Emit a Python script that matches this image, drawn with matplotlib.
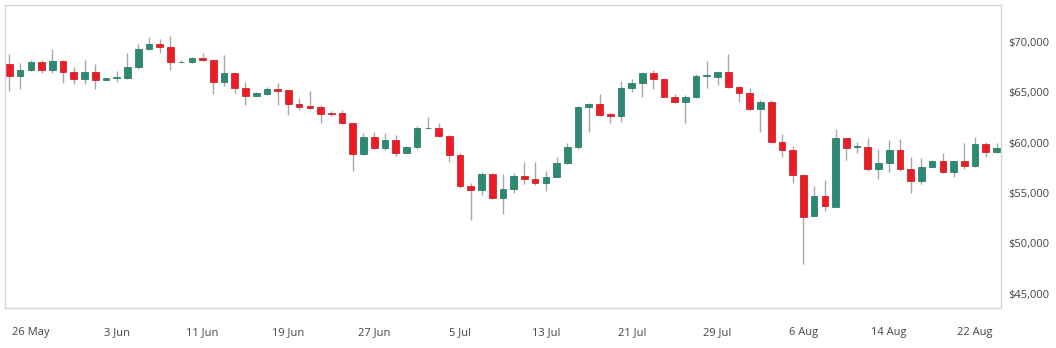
import pandas as pd
import numpy as np
import matplotlib
matplotlib.use('Agg')
import matplotlib.pyplot as plt
from matplotlib.ticker import FuncFormatter

# Daily OHLC (24 May - 24 Aug)
dates = pd.date_range('2024-05-24', periods=93, freq='D')

opens = [67790, 66600, 67190, 67990, 67160, 68080, 66990, 66270, 66990, 66200,
         66400, 66370, 67460, 69270, 69800, 69470, 67950, 67950, 68350, 68180,
         66000, 66930, 65380, 64650, 64850, 65280, 65210, 63790, 63630, 63490,
         62930, 62900, 61910, 58870, 60520, 59500, 60290, 59000, 59600, 61410,
         61480, 60690, 58800, 55700, 55300, 56920, 54480, 55400, 56720, 56390,
         55960, 56620, 57940, 59530, 63490, 63820, 62800, 62670, 65380, 65870,
         66930, 66270, 64550, 64050, 64480, 66600, 66530, 66990, 65480, 64880,
         63300, 63990, 60090, 59270, 56820, 52730, 54710, 53650, 60420, 59550,
         59600, 57380, 58010, 59300, 57380, 56230, 57610, 58210, 57120, 58180,
         57710, 59830, 59100]
highs = [68750, 67920, 68180, 68180, 69270, 68180, 67520, 68180, 67750, 66430,
         67090, 68910, 69740, 70500, 70260, 70590, 68150, 68480, 68840, 68180,
         68680, 66930, 66040, 64980, 65540, 65940, 65210, 64390, 65110, 63690,
         63130, 63230, 61910, 60980, 61080, 60980, 60750, 59690, 61640, 62500,
         61910, 60750, 59000, 55960, 57120, 56950, 56850, 56950, 58110, 58040,
         57220, 58540, 59990, 63630, 63960, 64780, 62960, 66140, 66270, 67030,
         67160, 66300, 64780, 64720, 66800, 68080, 66990, 68750, 65610, 65440,
         64220, 64220, 60820, 59690, 56820, 55730, 56290, 61310, 60420, 60090,
         60420, 59330, 60260, 60320, 58540, 58440, 58270, 58930, 58210, 59990,
         60520, 60090, 59990]
lows = [65150, 65310, 67090, 66930, 66930, 65940, 65800, 65800, 65340, 66170,
        66040, 66270, 67260, 69170, 68840, 67190, 67900, 67850, 68080, 64780,
        65640, 64950, 63720, 64580, 64750, 63720, 62730, 63230, 63360, 61970,
        62670, 61840, 57220, 58800, 59400, 59300, 58670, 58930, 59360, 61380,
        60590, 58110, 55470, 52330, 54770, 54450, 52960, 54970, 55860, 55800,
        55200, 56550, 57880, 59400, 61080, 62630, 61910, 62010, 65050, 64520,
        65310, 64500, 63890, 61970, 64450, 65440, 65710, 65380, 64050, 63230,
        61020, 59990, 58540, 55960, 47970, 52700, 53250, 53580, 58270, 59000,
        57220, 56360, 57120, 57220, 54970, 55860, 57550, 57020, 56560, 57380,
        57610, 58540, 59000]
closes = [66600, 67190, 67990, 67160, 68080, 66990, 66270, 66990, 66200, 66400,
          66480, 67520, 69270, 69800, 69470, 67990, 68020, 68380, 68180, 65970,
          66930, 65380, 64650, 64910, 65310, 65150, 63790, 63560, 63460, 62800,
          62800, 61910, 58870, 60520, 59500, 60290, 59000, 59600, 61410, 61480,
          60690, 58800, 55700, 55300, 56920, 54480, 55400, 56720, 56390, 55960,
          56620, 57940, 59530, 63490, 63820, 62770, 62670, 65380, 65870, 66930,
          66270, 64550, 64050, 64480, 66600, 66640, 66990, 65480, 64880, 63300,
          63990, 60090, 59270, 56820, 52590, 54740, 53720, 60420, 59500, 59600,
          57380, 58010, 59300, 57380, 56230, 57610, 58210, 57120, 58210, 57710,
          59830, 59100, 59500]

tick_dates = pd.date_range('2024-05-26', periods=12, freq='8D')
y_ticks = [45000, 50000, 55000, 60000, 65000, 70000]

UP = '#2b8a72'
DOWN = '#ec1c24'
WICK = '#a8a8a8'

df = pd.DataFrame({'open': opens, 'high': highs, 'low': lows, 'close': closes}, index=dates)

fig = plt.figure(figsize=(10.56, 3.48), dpi=100)
ax = fig.add_axes([0.0047, 0.115, 0.9432, 0.871])

up = df['close'] >= df['open']
colors = np.where(up, UP, DOWN)
edges = np.where(up, '#226e5b', '#c4141b')

# wicks first, bodies on top
ax.vlines(df.index, df['low'], df['high'], color=WICK, linewidth=1, zorder=1)
body_bottom = df[['open', 'close']].min(axis=1)
body_height = (df['close'] - df['open']).abs().clip(lower=70)
ax.bar(df.index, body_height, bottom=body_bottom, width=0.62,
       color=colors, edgecolor=edges, linewidth=0.5, zorder=2)

ax.set_xlim(dates[0] - pd.Timedelta(hours=10), dates[-1] + pd.Timedelta(hours=10))
ax.set_ylim(43600, 73650)

ax.yaxis.tick_right()
ax.set_yticks(y_ticks)
ax.yaxis.set_major_formatter(FuncFormatter(lambda v, p: f'${v:,.0f}'))
ax.set_xticks(tick_dates)
ax.set_xticklabels([f'{d.day} {d.strftime("%b")}' for d in tick_dates])

ax.tick_params(axis='both', length=0, labelsize=8, labelcolor='#444444')
ax.tick_params(axis='y', pad=5)
ax.tick_params(axis='x', pad=14)
for lab in ax.get_xticklabels() + ax.get_yticklabels():
    lab.set_fontfamily(['Open Sans', 'DejaVu Sans'])

for s in ax.spines.values():
    s.set_color('#d6d6d6')
    s.set_linewidth(1)

fig.savefig('out.png', dpi=100, facecolor='white')
